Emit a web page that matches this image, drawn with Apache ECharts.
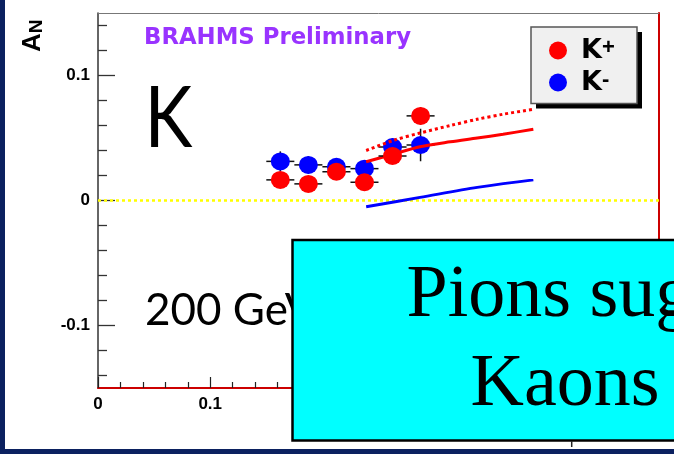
<!DOCTYPE html>
<html><head><meta charset="utf-8">
<script src="https://cdn.jsdelivr.net/npm/echarts@6/dist/echarts.min.js"></script>
<style>html,body{margin:0;padding:0;background:#fff}#c{width:674px;height:454px}</style>
</head><body><div id="c"></div>
<script>
// ---- data ----
const binCenters   = [0.1625, 0.1875, 0.2125, 0.2375, 0.2625, 0.2875];
const binHalfWidth = [0.0125, 0.0125, 0.0125, 0.0125, 0.0125, 0.0125];
const kPlusAN   = [0.0165, 0.0133, 0.0230, 0.0146, 0.0356, 0.0677];
const kPlusErr  = [0.006, 0.006, 0.006, 0.006, 0.006, 0.007];
const kMinusAN  = [0.0313, 0.0285, 0.0270, 0.0255, 0.0428, 0.0444];
const kMinusErr = [0.008, 0.007, 0.006, 0.006, 0.007, 0.013];

const fitKPlusX       = [0.239, 0.263, 0.287, 0.314, 0.338, 0.361, 0.388];
const fitKPlusY       = [0.031, 0.037, 0.043, 0.047, 0.050, 0.053, 0.057];
const fitKPlusDotX    = [0.239, 0.263, 0.287, 0.314, 0.338, 0.361, 0.388];
const fitKPlusDotY    = [0.040, 0.048, 0.054, 0.060, 0.065, 0.069, 0.073];
const fitKMinusX      = [0.239, 0.287, 0.338, 0.388];
const fitKMinusY      = [-0.005, 0.0025, 0.0105, 0.0165];
const zeroLineX       = [0, 0.52];
const zeroLineY       = [0, 0];

const xTickValues = [0, 0.1, 0.2, 0.3, 0.4, 0.5];
const xTickLabels = ['0', '0.1', '0.2', '0.3', '0.4', '0.5'];
const yTickValues = [-0.1, 0, 0.1];
const yTickLabels = ['-0.1', '0', '0.1'];
const yMinorTickValues = [-0.14, -0.12, -0.08, -0.06, -0.04, -0.02, 0.02, 0.04, 0.06, 0.08, 0.12, 0.14];

const seriesNames = ['K+', 'K-'];

// ---- chart ----
const SANS = 'Liberation Sans';
const pairs = (xs, ys) => xs.map((x, i) => [x, ys[i]]);
const labelFor = (vals, labs) => v => { const i = vals.findIndex(t => Math.abs(t - v) < 1e-9); return i < 0 ? '' : labs[i]; };

function errSeries(name, ys, yErr, z) {
  return {
    type: 'custom', name: name, z: z, silent: true,
    data: binCenters.map((x, i) => [x, ys[i], binHalfWidth[i], yErr[i]]),
    encode: { x: 0, y: 1 },
    renderItem: function (params, api) {
      const x = api.value(0), y = api.value(1), xe = api.value(2), ye = api.value(3);
      const l = api.coord([x - xe, y]), r = api.coord([x + xe, y]);
      const t = api.coord([x, y + ye]), b = api.coord([x, y - ye]);
      return { type: 'group', children: [
        { type: 'line', shape: { x1: l[0], y1: l[1], x2: r[0], y2: r[1] }, style: { stroke: '#111', lineWidth: 1.5 } },
        { type: 'line', shape: { x1: t[0], y1: t[1], x2: b[0], y2: b[1] }, style: { stroke: '#111', lineWidth: 1.5 } }
      ] };
    }
  };
}

const chart = echarts.init(document.getElementById('c'), null, { renderer: 'canvas' });
chart.setOption({
  animation: false,
  backgroundColor: '#ffffff',
  grid: { left: 98, top: 13, width: 561, height: 375, containLabel: false },
  xAxis: [
    { type: 'value', min: 0, max: 0.5, interval: 0.1, position: 'bottom',
      axisLine: { show: true, onZero: false, lineStyle: { color: '#cc0000', width: 2 } },
      axisTick: { show: true, inside: true, length: 11, lineStyle: { color: '#222', width: 1.2 } },
      minorTick: { show: true, splitNumber: 5, length: 6, lineStyle: { color: '#222', width: 1.2 } },
      axisLabel: { show: true, margin: 8, color: '#000', fontFamily: SANS, fontWeight: 'bold', fontSize: 17,
                   formatter: labelFor(xTickValues, xTickLabels) },
      splitLine: { show: false }, minorSplitLine: { show: false } },
    { type: 'value', min: 0, max: 0.5, position: 'top',
      axisLine: { show: true, onZero: false, lineStyle: { color: '#777', width: 1 } },
      axisTick: { show: false }, axisLabel: { show: false }, splitLine: { show: false } }
  ],
  yAxis: [
    { type: 'value', min: -0.15, max: 0.15, position: 'left',
      axisLine: { show: true, onZero: false, lineStyle: { color: '#333', width: 1.5 } },
      axisTick: { show: true, inside: true, length: 17, customValues: yTickValues, lineStyle: { color: '#333', width: 1.3 } },
      axisLabel: { show: true, margin: 8, customValues: yTickValues, color: '#000', fontFamily: SANS, fontWeight: 'bold', fontSize: 17,
                   formatter: labelFor(yTickValues, yTickLabels) },
      splitLine: { show: false } },
    { type: 'value', min: -0.15, max: 0.15, position: 'left',
      axisLine: { show: false },
      axisTick: { show: true, inside: true, length: 9, customValues: yMinorTickValues, lineStyle: { color: '#333', width: 1.3 } },
      axisLabel: { show: false }, splitLine: { show: false } },
    { type: 'value', min: -0.15, max: 0.15, position: 'right',
      axisLine: { show: true, onZero: false, lineStyle: { color: '#cc0000', width: 2 } },
      axisTick: { show: false }, axisLabel: { show: false }, splitLine: { show: false } },
    { type: 'value', min: -0.15, max: 0.15, position: 'left',
      axisLine: { show: false }, axisTick: { show: false }, axisLabel: { show: false }, splitLine: { show: false },
      name: '{a|A}{n|N}', nameLocation: 'end', nameRotate: 90, nameGap: -39,
      nameTextStyle: { color: '#000', padding: [0, 0, 130, 0], rich: {
        a: { fontFamily: SANS, fontWeight: 'bold', fontSize: 26, lineHeight: 26, color: '#000' },
        n: { fontFamily: SANS, fontWeight: 'bold', fontSize: 19, lineHeight: 16, verticalAlign: 'bottom', color: '#000' }
      } } }
  ],
  legend: {
    data: seriesNames, orient: 'vertical', left: 549, top: 37, z: 50,
    icon: 'circle', itemWidth: 18, itemHeight: 18, itemGap: 5,
    padding: 0,
    selectedMode: false,
    itemStyle: { opacity: 1 },
    formatter: name => name === 'K+' ? '{g|}{k|K}{sp|+}' : '{g|}{k|K}{sm|-}',
    textStyle: { color: '#000', rich: {
      g:  { width: 9, fontSize: 10 },
      k:  { fontFamily: 'DejaVu Sans', fontWeight: 'bold', fontSize: 27, lineHeight: 27, color: '#000' },
      sp: { fontFamily: SANS, fontWeight: 'bold', fontSize: 22, lineHeight: 9, verticalAlign: 'top', color: '#000' },
      sm: { fontFamily: SANS, fontWeight: 'bold', fontSize: 22, lineHeight: 1, verticalAlign: 'top', color: '#000' }
    } }
  },
  series: [
    { type: 'line', name: 'zero', data: pairs(zeroLineX, zeroLineY), showSymbol: false, clip: false, z: 1, silent: true,
      lineStyle: { color: '#ffff00', width: 2.5, type: [3, 3] } },
    { type: 'line', name: 'fitKminus', data: pairs(fitKMinusX, fitKMinusY), showSymbol: false, smooth: 0.3, z: 5, silent: true,
      lineStyle: { color: '#0000ff', width: 3 } },
    { type: 'line', name: 'fitKplus', data: pairs(fitKPlusX, fitKPlusY), showSymbol: false, smooth: 0.3, z: 5, silent: true,
      lineStyle: { color: '#ff0000', width: 3 } },
    { type: 'line', name: 'fitKplusDot', data: pairs(fitKPlusDotX, fitKPlusDotY), showSymbol: false, smooth: 0.3, z: 5, silent: true,
      lineStyle: { color: '#ff0000', width: 3, type: [3, 3] } },
    errSeries('errKminus', kMinusAN, kMinusErr, 3),
    { type: 'scatter', name: 'K-', data: pairs(binCenters, kMinusAN), symbol: 'circle', symbolSize: [19, 18], z: 4,
      itemStyle: { color: '#0000ff', opacity: 1 } },
    errSeries('errKplus', kPlusAN, kPlusErr, 6),
    { type: 'scatter', name: 'K+', data: pairs(binCenters, kPlusAN), symbol: 'circle', symbolSize: [19, 18], z: 7,
      itemStyle: { color: '#ff0000', opacity: 1 } }
  ],
  graphic: [
    { type: 'rect', z: 40, shape: { x: 536, y: 32, width: 106, height: 76.5 }, style: { fill: '#000' } },
    { type: 'rect', z: 41, shape: { x: 531, y: 27, width: 106, height: 76.5 }, style: { fill: '#f0f0f0', stroke: '#555', lineWidth: 1.5 } },
    { type: 'text', x: 144, y: 38, z: 10, style: { text: 'BRAHMS Preliminary', fontFamily: 'DejaVu Sans', fontWeight: 'bold', fontSize: 22.8, fill: '#9933ff', align: 'left', verticalAlign: 'middle' } },
    { type: 'group', x: 144.5, y: 119.5, scaleX: 0.84, scaleY: 1, z: 10, children: [
      { type: 'text', x: 0, y: 0, z: 10, style: { text: 'K', fontFamily: 'Lato', fontSize: 86, fill: '#000', align: 'left', verticalAlign: 'middle' } }
    ] },
    { type: 'text', x: 145, y: 310.5, z: 10, style: { text: '200 GeV', fontFamily: 'Lato', fontSize: 44, fill: '#000', align: 'left', verticalAlign: 'middle' } },
    { type: 'rect', z: 100, shape: { x: 292.5, y: 240, width: 420, height: 200.5 }, style: { fill: '#00ffff', stroke: '#000', lineWidth: 2.5 } },
    { type: 'text', x: 406.5, y: 297, z: 101, style: { text: 'Pions sug', fontFamily: 'Liberation Serif', fontSize: 74, fill: '#000', align: 'left', verticalAlign: 'middle' } },
    { type: 'text', x: 470.5, y: 386, z: 101, style: { text: 'Kaons', fontFamily: 'Liberation Serif', fontSize: 74, fill: '#000', align: 'left', verticalAlign: 'middle' } },
    { type: 'line', z: 101, shape: { x1: 571.7, y1: 441, x2: 571.7, y2: 447 }, style: { stroke: '#222', lineWidth: 1.5 } },
    { type: 'rect', z: 200, shape: { x: 0, y: 0, width: 5, height: 454 }, style: { fill: '#0b2160' } },
    { type: 'rect', z: 200, shape: { x: 0, y: 449, width: 674, height: 5 }, style: { fill: '#0b2160' } }
  ]
});
</script>
</body></html>
